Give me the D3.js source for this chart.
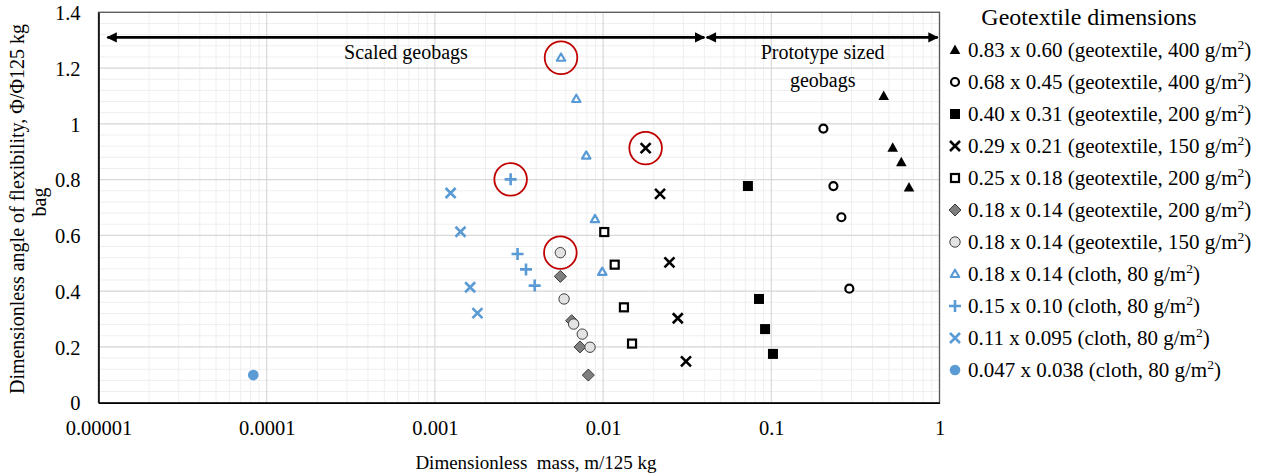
<!DOCTYPE html>
<html>
<head>
<meta charset="utf-8">
<script src="https://cdn.jsdelivr.net/npm/d3@7"></script>
<style>
  html, body { margin: 0; padding: 0; background: #fff; }
  svg { display: block; font-family: "Liberation Serif", "Times New Roman", serif; }
</style>
</head>
<body>
<svg id="chart" width="1262" height="476"></svg>
<script>
// ---------------- DATA ----------------
const seriesLabels = [
  "0.83 x 0.60 (geotextile, 400 g/m²)",
  "0.68 x 0.45 (geotextile, 400 g/m²)",
  "0.40 x 0.31 (geotextile, 200 g/m²)",
  "0.29 x 0.21 (geotextile, 150 g/m²)",
  "0.25 x 0.18 (geotextile, 200 g/m²)",
  "0.18 x 0.14 (geotextile, 200 g/m²)",
  "0.18 x 0.14 (geotextile, 150 g/m²)",
  "0.18 x 0.14 (cloth, 80 g/m²)",
  "0.15 x 0.10 (cloth, 80 g/m²)",
  "0.11 x 0.095 (cloth, 80 g/m²)",
  "0.047 x 0.038 (cloth, 80 g/m²)"
];
const seriesMarkers = ["triFill","circOpen","sqFill","xBlack","sqOpen","diamond","circGray","triBlue","plusBlue","xBlue","circBlue"];

const mass083 = [0.466, 0.527, 0.593, 0.659];
const flex083 = [1.10, 0.914, 0.862, 0.772];
const mass068 = [0.204, 0.234, 0.261, 0.291];
const flex068 = [0.983, 0.777, 0.665, 0.409];
const mass040 = [0.0726, 0.0845, 0.0918, 0.1023];
const flex040 = [0.777, 0.372, 0.264, 0.175];
const mass029 = [0.0179, 0.0218, 0.0248, 0.0278, 0.0311];
const flex029 = [0.913, 0.749, 0.503, 0.303, 0.148];
const mass025 = [0.01016, 0.01172, 0.0133, 0.01486];
const flex025 = [0.612, 0.495, 0.342, 0.212];
const mass018g200 = [0.00557, 0.0065, 0.00729, 0.00817];
const flex018g200 = [0.453, 0.294, 0.200, 0.099];
const mass018g150 = [0.00557, 0.00586, 0.00668, 0.00752, 0.00836];
const flex018g150 = [0.538, 0.372, 0.282, 0.246, 0.199];
const mass018c = [0.00562, 0.00693, 0.00794, 0.00895, 0.00989];
const flex018c = [1.237, 1.089, 0.886, 0.658, 0.469];
const mass015c = [0.00282, 0.0031, 0.00348, 0.00392];
const flex015c = [0.801, 0.533, 0.478, 0.420];
const mass011c = [0.00124, 0.00142, 0.00162, 0.00179];
const flex011c = [0.752, 0.613, 0.414, 0.321];
const mass0047c = [0.0000832];
const flex0047c = [0.099];

const seriesMass = [mass083, mass068, mass040, mass029, mass025, mass018g200, mass018g150, mass018c, mass015c, mass011c, mass0047c];
const seriesFlex = [flex083, flex068, flex040, flex029, flex025, flex018g200, flex018g150, flex018c, flex015c, flex011c, flex0047c];

// highlighted points: [series index, point index]
const highlighted = [[7, 0], [3, 0], [8, 0], [6, 0]];

const xTickValues = [0.00001, 0.0001, 0.001, 0.01, 0.1, 1];
const xTickLabels = ["0.00001", "0.0001", "0.001", "0.01", "0.1", "1"];
const yTickValues = [0, 0.2, 0.4, 0.6, 0.8, 1, 1.2, 1.4];
const yTickLabels = ["0", "0.2", "0.4", "0.6", "0.8", "1", "1.2", "1.4"];

// range annotations (data coordinates)
const rangeSpans = [[1.13e-5, 0.0400], [0.0413, 0.975]];
const rangeY = 1.31;
const rangeTexts = [
  { lines: ["Scaled geobags"], x: 0.000673, y: 1.257 },
  { lines: ["Prototype sized", "geobags"], x: 0.202, y: 1.257 }
];

// ---------------- LAYOUT ----------------
const svg = d3.select("#chart");
const L = 98.5, R = 939.5, T = 12.3, B = 402.7;
const x = d3.scaleLog().domain([1e-5, 1]).range([L, R]);
const y = d3.scaleLinear().domain([0, 1.4]).range([B, T]);
const BLUE = "#5b9bd5";

svg.append("rect").attr("width", 1262).attr("height", 476).attr("fill", "#fff");

// grid
const grid = svg.append("g");
const minorX = [];
for (let e = -5; e < 0; e++) for (let k = 2; k <= 9; k++) minorX.push(k * Math.pow(10, e));
grid.selectAll(".mx").data(minorX).enter().append("line")
  .attr("x1", d => x(d)).attr("x2", d => x(d)).attr("y1", T).attr("y2", B)
  .attr("stroke", "#efefef").attr("stroke-width", 1);
const minorY = d3.range(0, 1.4001, 0.04);
grid.selectAll(".my").data(minorY).enter().append("line")
  .attr("x1", L).attr("x2", R).attr("y1", d => y(d)).attr("y2", d => y(d))
  .attr("stroke", "#efefef").attr("stroke-width", 1);
grid.selectAll(".Mx").data(xTickValues).enter().append("line")
  .attr("x1", d => x(d)).attr("x2", d => x(d)).attr("y1", T).attr("y2", B)
  .attr("stroke", "#d9d9d9").attr("stroke-width", 1.2);
grid.selectAll(".My").data(yTickValues).enter().append("line")
  .attr("x1", L).attr("x2", R).attr("y1", d => y(d)).attr("y2", d => y(d))
  .attr("stroke", "#d9d9d9").attr("stroke-width", 1.2);

// plot border
svg.append("rect").attr("x", L).attr("y", T).attr("width", R - L).attr("height", B - T)
  .attr("fill", "none").attr("stroke", "#595959").attr("stroke-width", 1.3);

// axes
const xAxis = d3.axisBottom(x).tickValues(xTickValues).tickSize(0).tickPadding(0)
  .tickFormat((d, i) => xTickLabels[i]);
const gx = svg.append("g").attr("transform", `translate(0,${B})`).call(xAxis);
gx.select(".domain").attr("stroke", "#000").attr("stroke-width", 1.5);
gx.selectAll("text").attr("font-family", "Liberation Serif").attr("font-size", 20.5)
  .attr("fill", "#000").attr("y", 0).attr("dy", "32px");

const yAxis = d3.axisLeft(y).tickValues(yTickValues).tickSize(0).tickPadding(0)
  .tickFormat((d, i) => yTickLabels[i]);
const gy = svg.append("g").attr("transform", `translate(${L},0)`).call(yAxis);
gy.select(".domain").attr("stroke", "#000").attr("stroke-width", 1.5);
gy.selectAll("text").attr("font-family", "Liberation Serif").attr("font-size", 20.5)
  .attr("fill", "#000").attr("x", -18).attr("dy", "0.35em");

// axis titles
svg.append("text").attr("x", 536).attr("y", 469).attr("text-anchor", "middle")
  .attr("font-size", 19).attr("fill", "#000").attr("xml:space", "preserve")
  .text("Dimensionless  mass, m/125 kg");
svg.append("text").attr("transform", "translate(24,209) rotate(-90)").attr("text-anchor", "middle")
  .attr("font-size", 20).attr("fill", "#000")
  .text("Dimensionless angle of flexibility, Φ/Φ125 kg");
svg.append("text").attr("transform", "translate(46,202) rotate(-90)").attr("text-anchor", "middle")
  .attr("font-size", 20).attr("fill", "#000").text("bag");

// range arrows
const defs = svg.append("defs");
defs.append("marker").attr("id", "ah").attr("viewBox", "0 0 10 10").attr("refX", 9).attr("refY", 5)
  .attr("markerWidth", 5).attr("markerHeight", 4).attr("markerUnits", "strokeWidth")
  .attr("orient", "auto-start-reverse")
  .append("path").attr("d", "M0,0 L10,5 L0,10 Z").attr("fill", "#000");
svg.selectAll(".span").data(rangeSpans).enter().append("line")
  .attr("x1", d => x(d[0])).attr("x2", d => x(d[1]))
  .attr("y1", y(rangeY)).attr("y2", y(rangeY))
  .attr("stroke", "#000").attr("stroke-width", 2.6)
  .attr("marker-start", "url(#ah)").attr("marker-end", "url(#ah)");
rangeTexts.forEach(t => {
  const tx = svg.append("text").attr("x", x(t.x)).attr("y", y(t.y) + 7).attr("text-anchor", "middle")
    .attr("font-size", 20).attr("fill", "#000");
  t.lines.forEach((ln, i) => tx.append("tspan").attr("x", x(t.x)).attr("dy", i === 0 ? 0 : 27.5).text(ln));
});

// markers
function drawMarker(g, type, cx, cy) {
  const s = g.append("g").attr("transform", `translate(${cx},${cy})`);
  switch (type) {
    case "triFill":
      s.append("path").attr("d", "M0,-5.5 L5.3,4 L-5.3,4 Z").attr("fill", "#000"); break;
    case "circOpen":
      s.append("circle").attr("r", 4).attr("fill", "#fff").attr("stroke", "#000").attr("stroke-width", 2.2); break;
    case "sqFill":
      s.append("rect").attr("x", -5).attr("y", -5).attr("width", 10).attr("height", 10).attr("fill", "#000"); break;
    case "xBlack":
    case "xBlue": {
      const c = type === "xBlack" ? "#000" : BLUE;
      const h = 5;
      s.append("path").attr("d", `M${-h},${-h} L${h},${h} M${-h},${h} L${h},${-h}`)
        .attr("stroke", c).attr("stroke-width", 2.6).attr("fill", "none"); break;
    }
    case "sqOpen":
      s.append("rect").attr("x", -4).attr("y", -4).attr("width", 8).attr("height", 8)
        .attr("fill", "#fff").attr("stroke", "#000").attr("stroke-width", 2.2); break;
    case "diamond":
      s.append("path").attr("d", "M0,-6 L6,0 L0,6 L-6,0 Z").attr("fill", "#7f7f7f")
        .attr("stroke", "#3a3a3a").attr("stroke-width", 1); break;
    case "circGray":
      s.append("circle").attr("r", 5.2).attr("fill", "#e3e3e3").attr("stroke", "#404040").attr("stroke-width", 1); break;
    case "triBlue":
      s.append("path").attr("d", "M0,-4.3 L4.2,3 L-4.2,3 Z").attr("fill", "#fff")
        .attr("stroke", BLUE).attr("stroke-width", 2.2).attr("stroke-linejoin", "round"); break;
    case "plusBlue":
      s.append("path").attr("d", "M-6,0 L6,0 M0,-6 L0,6").attr("stroke", BLUE).attr("stroke-width", 2.6); break;
    case "circBlue":
      s.append("circle").attr("r", 5.3).attr("fill", BLUE); break;
  }
}

const plot = svg.append("g");
seriesMass.forEach((ms, si) => {
  ms.forEach((m, pi) => drawMarker(plot, seriesMarkers[si], x(m), y(seriesFlex[si][pi])));
});

// highlight rings
svg.selectAll(".ring").data(highlighted).enter().append("circle")
  .attr("cx", d => x(seriesMass[d[0]][d[1]])).attr("cy", d => y(seriesFlex[d[0]][d[1]]))
  .attr("r", 16.3).attr("fill", "none").attr("stroke", "#c00000").attr("stroke-width", 1.8);

// legend
const lg = svg.append("g");
lg.append("text").attr("x", 1089).attr("y", 25).attr("text-anchor", "middle")
  .attr("font-size", 24).attr("fill", "#000").text("Geotextile dimensions");
seriesLabels.forEach((lab, i) => {
  const cy = 50 + 32 * i;
  drawMarker(lg, seriesMarkers[i], 955, cy);
  const parts = lab.split("²");
  const t = lg.append("text").attr("x", 968).attr("y", cy + 7).attr("font-size", 21).attr("fill", "#000");
  t.append("tspan").text(parts[0]);
  t.append("tspan").attr("dy", -8).attr("font-size", 13.5).text("2");
  t.append("tspan").attr("dy", 8).text(parts[1]);
});
</script>
</body>
</html>
